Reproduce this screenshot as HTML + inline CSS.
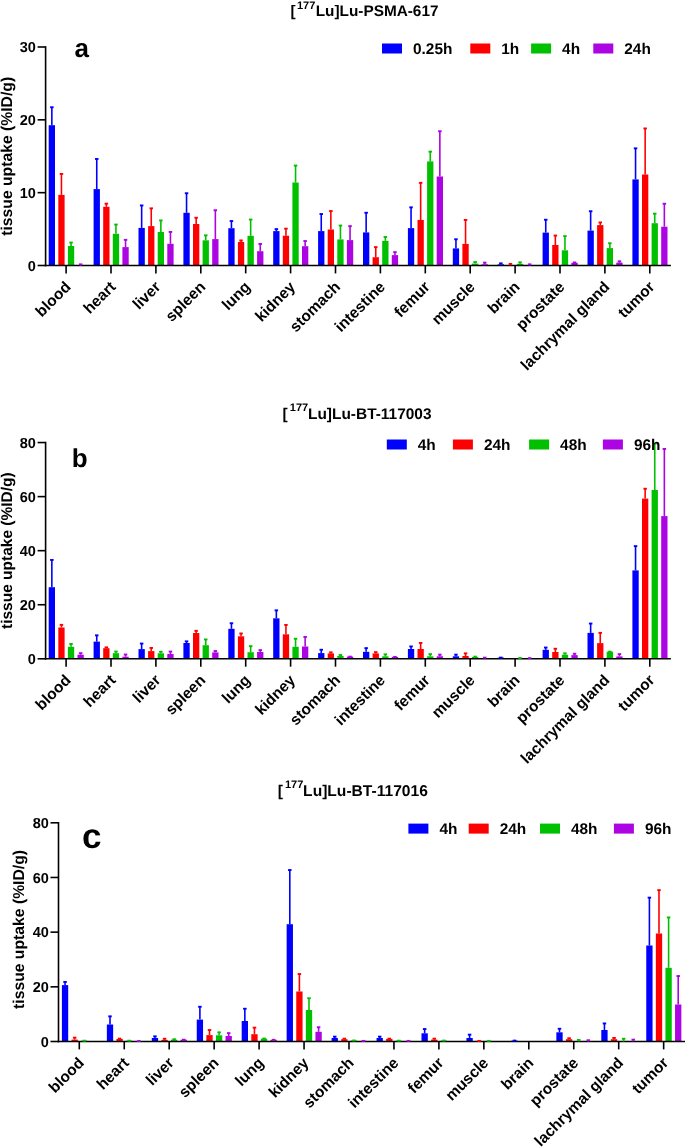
<!DOCTYPE html>
<html><head><meta charset="utf-8"><style>
html,body{margin:0;padding:0;background:#fff;}
svg{display:block;will-change:transform;}
text{font-family:"Liberation Sans", sans-serif;font-weight:bold;fill:#000;text-rendering:geometricPrecision;}
</style></head><body>
<svg width="685" height="1147" viewBox="0 0 685 1147">
<rect width="685" height="1147" fill="#fff"/>
<rect x="48.70" y="125.20" width="6.3" height="140.30" fill="#0000ff"/>
<rect x="58.30" y="194.90" width="6.3" height="70.60" fill="#ff0000"/>
<rect x="67.90" y="246.00" width="6.3" height="19.50" fill="#00c000"/>
<rect x="93.60" y="189.10" width="6.3" height="76.40" fill="#0000ff"/>
<rect x="103.20" y="206.80" width="6.3" height="58.70" fill="#ff0000"/>
<rect x="112.80" y="233.80" width="6.3" height="31.70" fill="#00c000"/>
<rect x="122.40" y="247.10" width="6.3" height="18.40" fill="#ac04e2"/>
<rect x="138.50" y="227.90" width="6.3" height="37.60" fill="#0000ff"/>
<rect x="148.10" y="226.10" width="6.3" height="39.40" fill="#ff0000"/>
<rect x="157.70" y="232.00" width="6.3" height="33.50" fill="#00c000"/>
<rect x="167.30" y="243.80" width="6.3" height="21.70" fill="#ac04e2"/>
<rect x="183.40" y="212.80" width="6.3" height="52.70" fill="#0000ff"/>
<rect x="193.00" y="224.00" width="6.3" height="41.50" fill="#ff0000"/>
<rect x="202.60" y="240.30" width="6.3" height="25.20" fill="#00c000"/>
<rect x="212.20" y="239.10" width="6.3" height="26.40" fill="#ac04e2"/>
<rect x="228.30" y="228.20" width="6.3" height="37.30" fill="#0000ff"/>
<rect x="237.90" y="242.00" width="6.3" height="23.50" fill="#ff0000"/>
<rect x="247.50" y="235.80" width="6.3" height="29.70" fill="#00c000"/>
<rect x="257.10" y="251.20" width="6.3" height="14.30" fill="#ac04e2"/>
<rect x="273.20" y="231.10" width="6.3" height="34.40" fill="#0000ff"/>
<rect x="282.80" y="235.70" width="6.3" height="29.80" fill="#ff0000"/>
<rect x="292.40" y="182.50" width="6.3" height="83.00" fill="#00c000"/>
<rect x="302.00" y="246.20" width="6.3" height="19.30" fill="#ac04e2"/>
<rect x="318.10" y="231.10" width="6.3" height="34.40" fill="#0000ff"/>
<rect x="327.70" y="229.50" width="6.3" height="36.00" fill="#ff0000"/>
<rect x="337.30" y="239.40" width="6.3" height="26.10" fill="#00c000"/>
<rect x="346.90" y="240.10" width="6.3" height="25.40" fill="#ac04e2"/>
<rect x="363.00" y="232.40" width="6.3" height="33.10" fill="#0000ff"/>
<rect x="372.60" y="257.20" width="6.3" height="8.30" fill="#ff0000"/>
<rect x="382.20" y="240.90" width="6.3" height="24.60" fill="#00c000"/>
<rect x="391.80" y="255.10" width="6.3" height="10.40" fill="#ac04e2"/>
<rect x="407.90" y="228.10" width="6.3" height="37.40" fill="#0000ff"/>
<rect x="417.50" y="219.90" width="6.3" height="45.60" fill="#ff0000"/>
<rect x="427.10" y="161.40" width="6.3" height="104.10" fill="#00c000"/>
<rect x="436.70" y="176.50" width="6.3" height="89.00" fill="#ac04e2"/>
<rect x="452.80" y="248.40" width="6.3" height="17.10" fill="#0000ff"/>
<rect x="462.40" y="243.90" width="6.3" height="21.60" fill="#ff0000"/>
<rect x="472.00" y="263.60" width="6.3" height="1.90" fill="#00c000"/>
<rect x="481.60" y="264.30" width="6.3" height="1.20" fill="#ac04e2"/>
<rect x="497.70" y="264.30" width="6.3" height="1.20" fill="#0000ff"/>
<rect x="516.90" y="263.80" width="6.3" height="1.70" fill="#00c000"/>
<rect x="542.60" y="232.60" width="6.3" height="32.90" fill="#0000ff"/>
<rect x="552.20" y="245.00" width="6.3" height="20.50" fill="#ff0000"/>
<rect x="561.80" y="250.30" width="6.3" height="15.20" fill="#00c000"/>
<rect x="571.40" y="262.80" width="6.3" height="2.70" fill="#ac04e2"/>
<rect x="587.50" y="230.60" width="6.3" height="34.90" fill="#0000ff"/>
<rect x="597.10" y="225.10" width="6.3" height="40.40" fill="#ff0000"/>
<rect x="606.70" y="248.10" width="6.3" height="17.40" fill="#00c000"/>
<rect x="616.30" y="262.60" width="6.3" height="2.90" fill="#ac04e2"/>
<rect x="632.40" y="179.40" width="6.3" height="86.10" fill="#0000ff"/>
<rect x="642.00" y="174.50" width="6.3" height="91.00" fill="#ff0000"/>
<rect x="651.60" y="223.20" width="6.3" height="42.30" fill="#00c000"/>
<rect x="661.20" y="226.70" width="6.3" height="38.80" fill="#ac04e2"/>
<line x1="45.60" y1="46.20" x2="45.60" y2="266.30" stroke="#000" stroke-width="1.6"/>
<line x1="44.80" y1="265.50" x2="670.90" y2="265.50" stroke="#000" stroke-width="1.6"/>
<line x1="37.6" y1="265.50" x2="45.6" y2="265.50" stroke="#000" stroke-width="1.6"/>
<text x="35.9" y="270.70" font-size="14.5" text-anchor="end">0</text>
<line x1="37.6" y1="192.67" x2="45.6" y2="192.67" stroke="#000" stroke-width="1.6"/>
<text x="35.9" y="197.87" font-size="14.5" text-anchor="end">10</text>
<line x1="37.6" y1="119.83" x2="45.6" y2="119.83" stroke="#000" stroke-width="1.6"/>
<text x="35.9" y="125.03" font-size="14.5" text-anchor="end">20</text>
<line x1="37.6" y1="47.00" x2="45.6" y2="47.00" stroke="#000" stroke-width="1.6"/>
<text x="35.9" y="52.20" font-size="14.5" text-anchor="end">30</text>
<line x1="66.10" y1="265.50" x2="66.10" y2="273.40" stroke="#000" stroke-width="1.6"/>
<line x1="111.00" y1="265.50" x2="111.00" y2="273.40" stroke="#000" stroke-width="1.6"/>
<line x1="155.90" y1="265.50" x2="155.90" y2="273.40" stroke="#000" stroke-width="1.6"/>
<line x1="200.80" y1="265.50" x2="200.80" y2="273.40" stroke="#000" stroke-width="1.6"/>
<line x1="245.70" y1="265.50" x2="245.70" y2="273.40" stroke="#000" stroke-width="1.6"/>
<line x1="290.60" y1="265.50" x2="290.60" y2="273.40" stroke="#000" stroke-width="1.6"/>
<line x1="335.50" y1="265.50" x2="335.50" y2="273.40" stroke="#000" stroke-width="1.6"/>
<line x1="380.40" y1="265.50" x2="380.40" y2="273.40" stroke="#000" stroke-width="1.6"/>
<line x1="425.30" y1="265.50" x2="425.30" y2="273.40" stroke="#000" stroke-width="1.6"/>
<line x1="470.20" y1="265.50" x2="470.20" y2="273.40" stroke="#000" stroke-width="1.6"/>
<line x1="515.10" y1="265.50" x2="515.10" y2="273.40" stroke="#000" stroke-width="1.6"/>
<line x1="560.00" y1="265.50" x2="560.00" y2="273.40" stroke="#000" stroke-width="1.6"/>
<line x1="604.90" y1="265.50" x2="604.90" y2="273.40" stroke="#000" stroke-width="1.6"/>
<line x1="649.80" y1="265.50" x2="649.80" y2="273.40" stroke="#000" stroke-width="1.6"/>
<line x1="51.85" y1="106.90" x2="51.85" y2="125.20" stroke="#0000ff" stroke-width="1.6"/>
<line x1="50.10" y1="107.25" x2="53.60" y2="107.25" stroke="#0000ff" stroke-width="1.9"/>
<line x1="61.45" y1="173.60" x2="61.45" y2="194.90" stroke="#ff0000" stroke-width="1.6"/>
<line x1="59.70" y1="173.95" x2="63.20" y2="173.95" stroke="#ff0000" stroke-width="1.9"/>
<line x1="71.05" y1="242.20" x2="71.05" y2="246.00" stroke="#00c000" stroke-width="1.6"/>
<line x1="69.30" y1="242.55" x2="72.80" y2="242.55" stroke="#00c000" stroke-width="1.9"/>
<line x1="80.65" y1="264.00" x2="80.65" y2="265.50" stroke="#ac04e2" stroke-width="1.6"/>
<line x1="78.90" y1="264.35" x2="82.40" y2="264.35" stroke="#ac04e2" stroke-width="1.9"/>
<line x1="96.75" y1="158.60" x2="96.75" y2="189.10" stroke="#0000ff" stroke-width="1.6"/>
<line x1="95.00" y1="158.95" x2="98.50" y2="158.95" stroke="#0000ff" stroke-width="1.9"/>
<line x1="106.35" y1="203.30" x2="106.35" y2="206.80" stroke="#ff0000" stroke-width="1.6"/>
<line x1="104.60" y1="203.65" x2="108.10" y2="203.65" stroke="#ff0000" stroke-width="1.9"/>
<line x1="115.95" y1="224.20" x2="115.95" y2="233.80" stroke="#00c000" stroke-width="1.6"/>
<line x1="114.20" y1="224.55" x2="117.70" y2="224.55" stroke="#00c000" stroke-width="1.9"/>
<line x1="125.55" y1="239.50" x2="125.55" y2="247.10" stroke="#ac04e2" stroke-width="1.6"/>
<line x1="123.80" y1="239.85" x2="127.30" y2="239.85" stroke="#ac04e2" stroke-width="1.9"/>
<line x1="141.65" y1="205.10" x2="141.65" y2="227.90" stroke="#0000ff" stroke-width="1.6"/>
<line x1="139.90" y1="205.45" x2="143.40" y2="205.45" stroke="#0000ff" stroke-width="1.9"/>
<line x1="151.25" y1="208.00" x2="151.25" y2="226.10" stroke="#ff0000" stroke-width="1.6"/>
<line x1="149.50" y1="208.35" x2="153.00" y2="208.35" stroke="#ff0000" stroke-width="1.9"/>
<line x1="160.85" y1="220.10" x2="160.85" y2="232.00" stroke="#00c000" stroke-width="1.6"/>
<line x1="159.10" y1="220.45" x2="162.60" y2="220.45" stroke="#00c000" stroke-width="1.9"/>
<line x1="170.45" y1="231.60" x2="170.45" y2="243.80" stroke="#ac04e2" stroke-width="1.6"/>
<line x1="168.70" y1="231.95" x2="172.20" y2="231.95" stroke="#ac04e2" stroke-width="1.9"/>
<line x1="186.55" y1="192.90" x2="186.55" y2="212.80" stroke="#0000ff" stroke-width="1.6"/>
<line x1="184.80" y1="193.25" x2="188.30" y2="193.25" stroke="#0000ff" stroke-width="1.9"/>
<line x1="196.15" y1="217.40" x2="196.15" y2="224.00" stroke="#ff0000" stroke-width="1.6"/>
<line x1="194.40" y1="217.75" x2="197.90" y2="217.75" stroke="#ff0000" stroke-width="1.9"/>
<line x1="205.75" y1="235.00" x2="205.75" y2="240.30" stroke="#00c000" stroke-width="1.6"/>
<line x1="204.00" y1="235.35" x2="207.50" y2="235.35" stroke="#00c000" stroke-width="1.9"/>
<line x1="215.35" y1="209.90" x2="215.35" y2="239.10" stroke="#ac04e2" stroke-width="1.6"/>
<line x1="213.60" y1="210.25" x2="217.10" y2="210.25" stroke="#ac04e2" stroke-width="1.9"/>
<line x1="231.45" y1="220.70" x2="231.45" y2="228.20" stroke="#0000ff" stroke-width="1.6"/>
<line x1="229.70" y1="221.05" x2="233.20" y2="221.05" stroke="#0000ff" stroke-width="1.9"/>
<line x1="241.05" y1="240.10" x2="241.05" y2="242.00" stroke="#ff0000" stroke-width="1.6"/>
<line x1="239.30" y1="240.45" x2="242.80" y2="240.45" stroke="#ff0000" stroke-width="1.9"/>
<line x1="250.65" y1="219.20" x2="250.65" y2="235.80" stroke="#00c000" stroke-width="1.6"/>
<line x1="248.90" y1="219.55" x2="252.40" y2="219.55" stroke="#00c000" stroke-width="1.9"/>
<line x1="260.25" y1="243.60" x2="260.25" y2="251.20" stroke="#ac04e2" stroke-width="1.6"/>
<line x1="258.50" y1="243.95" x2="262.00" y2="243.95" stroke="#ac04e2" stroke-width="1.9"/>
<line x1="276.35" y1="228.80" x2="276.35" y2="231.10" stroke="#0000ff" stroke-width="1.6"/>
<line x1="274.60" y1="229.15" x2="278.10" y2="229.15" stroke="#0000ff" stroke-width="1.9"/>
<line x1="285.95" y1="228.30" x2="285.95" y2="235.70" stroke="#ff0000" stroke-width="1.6"/>
<line x1="284.20" y1="228.65" x2="287.70" y2="228.65" stroke="#ff0000" stroke-width="1.9"/>
<line x1="295.55" y1="165.20" x2="295.55" y2="182.50" stroke="#00c000" stroke-width="1.6"/>
<line x1="293.80" y1="165.55" x2="297.30" y2="165.55" stroke="#00c000" stroke-width="1.9"/>
<line x1="305.15" y1="240.70" x2="305.15" y2="246.20" stroke="#ac04e2" stroke-width="1.6"/>
<line x1="303.40" y1="241.05" x2="306.90" y2="241.05" stroke="#ac04e2" stroke-width="1.9"/>
<line x1="321.25" y1="213.70" x2="321.25" y2="231.10" stroke="#0000ff" stroke-width="1.6"/>
<line x1="319.50" y1="214.05" x2="323.00" y2="214.05" stroke="#0000ff" stroke-width="1.9"/>
<line x1="330.85" y1="210.70" x2="330.85" y2="229.50" stroke="#ff0000" stroke-width="1.6"/>
<line x1="329.10" y1="211.05" x2="332.60" y2="211.05" stroke="#ff0000" stroke-width="1.9"/>
<line x1="340.45" y1="225.20" x2="340.45" y2="239.40" stroke="#00c000" stroke-width="1.6"/>
<line x1="338.70" y1="225.55" x2="342.20" y2="225.55" stroke="#00c000" stroke-width="1.9"/>
<line x1="350.05" y1="225.80" x2="350.05" y2="240.10" stroke="#ac04e2" stroke-width="1.6"/>
<line x1="348.30" y1="226.15" x2="351.80" y2="226.15" stroke="#ac04e2" stroke-width="1.9"/>
<line x1="366.15" y1="212.40" x2="366.15" y2="232.40" stroke="#0000ff" stroke-width="1.6"/>
<line x1="364.40" y1="212.75" x2="367.90" y2="212.75" stroke="#0000ff" stroke-width="1.9"/>
<line x1="375.75" y1="246.80" x2="375.75" y2="257.20" stroke="#ff0000" stroke-width="1.6"/>
<line x1="374.00" y1="247.15" x2="377.50" y2="247.15" stroke="#ff0000" stroke-width="1.9"/>
<line x1="385.35" y1="236.70" x2="385.35" y2="240.90" stroke="#00c000" stroke-width="1.6"/>
<line x1="383.60" y1="237.05" x2="387.10" y2="237.05" stroke="#00c000" stroke-width="1.9"/>
<line x1="394.95" y1="251.80" x2="394.95" y2="255.10" stroke="#ac04e2" stroke-width="1.6"/>
<line x1="393.20" y1="252.15" x2="396.70" y2="252.15" stroke="#ac04e2" stroke-width="1.9"/>
<line x1="411.05" y1="207.00" x2="411.05" y2="228.10" stroke="#0000ff" stroke-width="1.6"/>
<line x1="409.30" y1="207.35" x2="412.80" y2="207.35" stroke="#0000ff" stroke-width="1.9"/>
<line x1="420.65" y1="182.50" x2="420.65" y2="219.90" stroke="#ff0000" stroke-width="1.6"/>
<line x1="418.90" y1="182.85" x2="422.40" y2="182.85" stroke="#ff0000" stroke-width="1.9"/>
<line x1="430.25" y1="151.30" x2="430.25" y2="161.40" stroke="#00c000" stroke-width="1.6"/>
<line x1="428.50" y1="151.65" x2="432.00" y2="151.65" stroke="#00c000" stroke-width="1.9"/>
<line x1="439.85" y1="130.90" x2="439.85" y2="176.50" stroke="#ac04e2" stroke-width="1.6"/>
<line x1="438.10" y1="131.25" x2="441.60" y2="131.25" stroke="#ac04e2" stroke-width="1.9"/>
<line x1="455.95" y1="238.90" x2="455.95" y2="248.40" stroke="#0000ff" stroke-width="1.6"/>
<line x1="454.20" y1="239.25" x2="457.70" y2="239.25" stroke="#0000ff" stroke-width="1.9"/>
<line x1="465.55" y1="219.60" x2="465.55" y2="243.90" stroke="#ff0000" stroke-width="1.6"/>
<line x1="463.80" y1="219.95" x2="467.30" y2="219.95" stroke="#ff0000" stroke-width="1.9"/>
<line x1="475.15" y1="261.70" x2="475.15" y2="263.60" stroke="#00c000" stroke-width="1.6"/>
<line x1="473.40" y1="262.05" x2="476.90" y2="262.05" stroke="#00c000" stroke-width="1.9"/>
<line x1="484.75" y1="262.30" x2="484.75" y2="264.30" stroke="#ac04e2" stroke-width="1.6"/>
<line x1="483.00" y1="262.65" x2="486.50" y2="262.65" stroke="#ac04e2" stroke-width="1.9"/>
<line x1="500.85" y1="263.00" x2="500.85" y2="264.30" stroke="#0000ff" stroke-width="1.6"/>
<line x1="499.10" y1="263.35" x2="502.60" y2="263.35" stroke="#0000ff" stroke-width="1.9"/>
<line x1="510.45" y1="263.60" x2="510.45" y2="265.50" stroke="#ff0000" stroke-width="1.6"/>
<line x1="508.70" y1="263.95" x2="512.20" y2="263.95" stroke="#ff0000" stroke-width="1.9"/>
<line x1="520.05" y1="262.00" x2="520.05" y2="263.80" stroke="#00c000" stroke-width="1.6"/>
<line x1="518.30" y1="262.35" x2="521.80" y2="262.35" stroke="#00c000" stroke-width="1.9"/>
<line x1="529.65" y1="264.00" x2="529.65" y2="265.50" stroke="#ac04e2" stroke-width="1.6"/>
<line x1="527.90" y1="264.35" x2="531.40" y2="264.35" stroke="#ac04e2" stroke-width="1.9"/>
<line x1="545.75" y1="219.40" x2="545.75" y2="232.60" stroke="#0000ff" stroke-width="1.6"/>
<line x1="544.00" y1="219.75" x2="547.50" y2="219.75" stroke="#0000ff" stroke-width="1.9"/>
<line x1="555.35" y1="235.20" x2="555.35" y2="245.00" stroke="#ff0000" stroke-width="1.6"/>
<line x1="553.60" y1="235.55" x2="557.10" y2="235.55" stroke="#ff0000" stroke-width="1.9"/>
<line x1="564.95" y1="235.80" x2="564.95" y2="250.30" stroke="#00c000" stroke-width="1.6"/>
<line x1="563.20" y1="236.15" x2="566.70" y2="236.15" stroke="#00c000" stroke-width="1.9"/>
<line x1="574.55" y1="262.10" x2="574.55" y2="262.80" stroke="#ac04e2" stroke-width="1.6"/>
<line x1="572.80" y1="262.45" x2="576.30" y2="262.45" stroke="#ac04e2" stroke-width="1.9"/>
<line x1="590.65" y1="210.90" x2="590.65" y2="230.60" stroke="#0000ff" stroke-width="1.6"/>
<line x1="588.90" y1="211.25" x2="592.40" y2="211.25" stroke="#0000ff" stroke-width="1.9"/>
<line x1="600.25" y1="222.10" x2="600.25" y2="225.10" stroke="#ff0000" stroke-width="1.6"/>
<line x1="598.50" y1="222.45" x2="602.00" y2="222.45" stroke="#ff0000" stroke-width="1.9"/>
<line x1="609.85" y1="242.90" x2="609.85" y2="248.10" stroke="#00c000" stroke-width="1.6"/>
<line x1="608.10" y1="243.25" x2="611.60" y2="243.25" stroke="#00c000" stroke-width="1.9"/>
<line x1="619.45" y1="261.00" x2="619.45" y2="262.60" stroke="#ac04e2" stroke-width="1.6"/>
<line x1="617.70" y1="261.35" x2="621.20" y2="261.35" stroke="#ac04e2" stroke-width="1.9"/>
<line x1="635.55" y1="148.00" x2="635.55" y2="179.40" stroke="#0000ff" stroke-width="1.6"/>
<line x1="633.80" y1="148.35" x2="637.30" y2="148.35" stroke="#0000ff" stroke-width="1.9"/>
<line x1="645.15" y1="128.10" x2="645.15" y2="174.50" stroke="#ff0000" stroke-width="1.6"/>
<line x1="643.40" y1="128.45" x2="646.90" y2="128.45" stroke="#ff0000" stroke-width="1.9"/>
<line x1="654.75" y1="213.30" x2="654.75" y2="223.20" stroke="#00c000" stroke-width="1.6"/>
<line x1="653.00" y1="213.65" x2="656.50" y2="213.65" stroke="#00c000" stroke-width="1.9"/>
<line x1="664.35" y1="203.40" x2="664.35" y2="226.70" stroke="#ac04e2" stroke-width="1.6"/>
<line x1="662.60" y1="203.75" x2="666.10" y2="203.75" stroke="#ac04e2" stroke-width="1.9"/>
<text transform="translate(290.40,16.00) scale(1,1.0)" font-size="15.35">[</text>
<text transform="translate(297.00,8.60) scale(1,1.0)" font-size="11">177</text>
<text transform="translate(315.70,16.00) scale(1,1.0)" font-size="15.35">Lu]Lu-PSMA-617</text>
<text x="74.6" y="57.0" font-size="26">a</text>
<rect x="382.0" y="43.5" width="20" height="10" fill="#0000ff"/>
<text x="413.0" y="53.8" font-size="15.4">0.25h</text>
<rect x="470.3" y="43.5" width="20" height="10" fill="#ff0000"/>
<text x="501.3" y="53.8" font-size="15.4">1h</text>
<rect x="531.1" y="43.5" width="20" height="10" fill="#00c000"/>
<text x="562.1" y="53.8" font-size="15.4">4h</text>
<rect x="593.3" y="43.5" width="20" height="10" fill="#ac04e2"/>
<text x="624.3" y="53.8" font-size="15.4">24h</text>
<text transform="translate(12.10,156.30) rotate(-90)" font-size="15.73" text-anchor="middle">tissue uptake (%ID/g)</text>
<text transform="translate(71.70,287.80) rotate(-45)" font-size="15.5" text-anchor="end">blood</text>
<text transform="translate(116.60,287.80) rotate(-45)" font-size="15.5" text-anchor="end">heart</text>
<text transform="translate(161.50,287.80) rotate(-45)" font-size="15.5" text-anchor="end">liver</text>
<text transform="translate(206.40,287.80) rotate(-45)" font-size="15.5" text-anchor="end">spleen</text>
<text transform="translate(251.30,287.80) rotate(-45)" font-size="15.5" text-anchor="end">lung</text>
<text transform="translate(296.20,287.80) rotate(-45)" font-size="15.5" text-anchor="end">kidney</text>
<text transform="translate(341.10,287.80) rotate(-45)" font-size="15.5" text-anchor="end">stomach</text>
<text transform="translate(386.00,287.80) rotate(-45)" font-size="15.5" text-anchor="end">intestine</text>
<text transform="translate(430.90,287.80) rotate(-45)" font-size="15.5" text-anchor="end">femur</text>
<text transform="translate(475.80,287.80) rotate(-45)" font-size="15.5" text-anchor="end">muscle</text>
<text transform="translate(520.70,287.80) rotate(-45)" font-size="15.5" text-anchor="end">brain</text>
<text transform="translate(565.60,287.80) rotate(-45)" font-size="15.5" text-anchor="end">prostate</text>
<text transform="translate(610.50,287.80) rotate(-45)" font-size="15.5" text-anchor="end">lachrymal gland</text>
<text transform="translate(655.40,287.80) rotate(-45)" font-size="15.5" text-anchor="end">tumor</text>
<rect x="48.70" y="587.20" width="6.3" height="71.60" fill="#0000ff"/>
<rect x="58.30" y="627.50" width="6.3" height="31.30" fill="#ff0000"/>
<rect x="67.90" y="646.80" width="6.3" height="12.00" fill="#00c000"/>
<rect x="77.50" y="654.70" width="6.3" height="4.10" fill="#ac04e2"/>
<rect x="93.60" y="641.60" width="6.3" height="17.20" fill="#0000ff"/>
<rect x="103.20" y="648.20" width="6.3" height="10.60" fill="#ff0000"/>
<rect x="112.80" y="653.20" width="6.3" height="5.60" fill="#00c000"/>
<rect x="122.40" y="656.70" width="6.3" height="2.10" fill="#ac04e2"/>
<rect x="138.50" y="649.10" width="6.3" height="9.70" fill="#0000ff"/>
<rect x="148.10" y="651.10" width="6.3" height="7.70" fill="#ff0000"/>
<rect x="157.70" y="653.30" width="6.3" height="5.50" fill="#00c000"/>
<rect x="167.30" y="654.00" width="6.3" height="4.80" fill="#ac04e2"/>
<rect x="183.40" y="643.00" width="6.3" height="15.80" fill="#0000ff"/>
<rect x="193.00" y="633.00" width="6.3" height="25.80" fill="#ff0000"/>
<rect x="202.60" y="645.20" width="6.3" height="13.60" fill="#00c000"/>
<rect x="212.20" y="652.40" width="6.3" height="6.40" fill="#ac04e2"/>
<rect x="228.30" y="628.80" width="6.3" height="30.00" fill="#0000ff"/>
<rect x="237.90" y="636.30" width="6.3" height="22.50" fill="#ff0000"/>
<rect x="247.50" y="652.20" width="6.3" height="6.60" fill="#00c000"/>
<rect x="257.10" y="652.00" width="6.3" height="6.80" fill="#ac04e2"/>
<rect x="273.20" y="618.30" width="6.3" height="40.50" fill="#0000ff"/>
<rect x="282.80" y="634.30" width="6.3" height="24.50" fill="#ff0000"/>
<rect x="292.40" y="646.80" width="6.3" height="12.00" fill="#00c000"/>
<rect x="302.00" y="646.50" width="6.3" height="12.30" fill="#ac04e2"/>
<rect x="318.10" y="653.10" width="6.3" height="5.70" fill="#0000ff"/>
<rect x="327.70" y="653.40" width="6.3" height="5.40" fill="#ff0000"/>
<rect x="337.30" y="656.00" width="6.3" height="2.80" fill="#00c000"/>
<rect x="346.90" y="656.60" width="6.3" height="2.20" fill="#ac04e2"/>
<rect x="363.00" y="651.80" width="6.3" height="7.00" fill="#0000ff"/>
<rect x="372.60" y="653.40" width="6.3" height="5.40" fill="#ff0000"/>
<rect x="382.20" y="656.30" width="6.3" height="2.50" fill="#00c000"/>
<rect x="391.80" y="656.90" width="6.3" height="1.90" fill="#ac04e2"/>
<rect x="407.90" y="649.00" width="6.3" height="9.80" fill="#0000ff"/>
<rect x="417.50" y="649.00" width="6.3" height="9.80" fill="#ff0000"/>
<rect x="427.10" y="656.30" width="6.3" height="2.50" fill="#00c000"/>
<rect x="436.70" y="656.30" width="6.3" height="2.50" fill="#ac04e2"/>
<rect x="452.80" y="656.30" width="6.3" height="2.50" fill="#0000ff"/>
<rect x="462.40" y="656.00" width="6.3" height="2.80" fill="#ff0000"/>
<rect x="472.00" y="657.00" width="6.3" height="1.80" fill="#00c000"/>
<rect x="481.60" y="658.00" width="6.3" height="0.80" fill="#ac04e2"/>
<rect x="497.70" y="657.60" width="6.3" height="1.20" fill="#0000ff"/>
<rect x="516.90" y="658.00" width="6.3" height="0.80" fill="#00c000"/>
<rect x="526.50" y="658.10" width="6.3" height="0.70" fill="#ac04e2"/>
<rect x="542.60" y="649.80" width="6.3" height="9.00" fill="#0000ff"/>
<rect x="552.20" y="652.00" width="6.3" height="6.80" fill="#ff0000"/>
<rect x="561.80" y="654.70" width="6.3" height="4.10" fill="#00c000"/>
<rect x="571.40" y="655.10" width="6.3" height="3.70" fill="#ac04e2"/>
<rect x="587.50" y="632.90" width="6.3" height="25.90" fill="#0000ff"/>
<rect x="597.10" y="643.10" width="6.3" height="15.70" fill="#ff0000"/>
<rect x="606.70" y="651.70" width="6.3" height="7.10" fill="#00c000"/>
<rect x="616.30" y="656.40" width="6.3" height="2.40" fill="#ac04e2"/>
<rect x="632.40" y="570.40" width="6.3" height="88.40" fill="#0000ff"/>
<rect x="642.00" y="498.60" width="6.3" height="160.20" fill="#ff0000"/>
<rect x="651.60" y="490.00" width="6.3" height="168.80" fill="#00c000"/>
<rect x="661.20" y="516.10" width="6.3" height="142.70" fill="#ac04e2"/>
<line x1="45.60" y1="441.75" x2="45.60" y2="659.60" stroke="#000" stroke-width="1.6"/>
<line x1="44.80" y1="658.80" x2="670.90" y2="658.80" stroke="#000" stroke-width="1.6"/>
<line x1="37.6" y1="658.80" x2="45.6" y2="658.80" stroke="#000" stroke-width="1.6"/>
<text x="35.9" y="664.00" font-size="14.5" text-anchor="end">0</text>
<line x1="37.6" y1="604.74" x2="45.6" y2="604.74" stroke="#000" stroke-width="1.6"/>
<text x="35.9" y="609.94" font-size="14.5" text-anchor="end">20</text>
<line x1="37.6" y1="550.67" x2="45.6" y2="550.67" stroke="#000" stroke-width="1.6"/>
<text x="35.9" y="555.88" font-size="14.5" text-anchor="end">40</text>
<line x1="37.6" y1="496.61" x2="45.6" y2="496.61" stroke="#000" stroke-width="1.6"/>
<text x="35.9" y="501.81" font-size="14.5" text-anchor="end">60</text>
<line x1="37.6" y1="442.55" x2="45.6" y2="442.55" stroke="#000" stroke-width="1.6"/>
<text x="35.9" y="447.75" font-size="14.5" text-anchor="end">80</text>
<line x1="66.10" y1="658.80" x2="66.10" y2="666.70" stroke="#000" stroke-width="1.6"/>
<line x1="111.00" y1="658.80" x2="111.00" y2="666.70" stroke="#000" stroke-width="1.6"/>
<line x1="155.90" y1="658.80" x2="155.90" y2="666.70" stroke="#000" stroke-width="1.6"/>
<line x1="200.80" y1="658.80" x2="200.80" y2="666.70" stroke="#000" stroke-width="1.6"/>
<line x1="245.70" y1="658.80" x2="245.70" y2="666.70" stroke="#000" stroke-width="1.6"/>
<line x1="290.60" y1="658.80" x2="290.60" y2="666.70" stroke="#000" stroke-width="1.6"/>
<line x1="335.50" y1="658.80" x2="335.50" y2="666.70" stroke="#000" stroke-width="1.6"/>
<line x1="380.40" y1="658.80" x2="380.40" y2="666.70" stroke="#000" stroke-width="1.6"/>
<line x1="425.30" y1="658.80" x2="425.30" y2="666.70" stroke="#000" stroke-width="1.6"/>
<line x1="470.20" y1="658.80" x2="470.20" y2="666.70" stroke="#000" stroke-width="1.6"/>
<line x1="515.10" y1="658.80" x2="515.10" y2="666.70" stroke="#000" stroke-width="1.6"/>
<line x1="560.00" y1="658.80" x2="560.00" y2="666.70" stroke="#000" stroke-width="1.6"/>
<line x1="604.90" y1="658.80" x2="604.90" y2="666.70" stroke="#000" stroke-width="1.6"/>
<line x1="649.80" y1="658.80" x2="649.80" y2="666.70" stroke="#000" stroke-width="1.6"/>
<line x1="51.85" y1="559.60" x2="51.85" y2="587.20" stroke="#0000ff" stroke-width="1.6"/>
<line x1="50.10" y1="559.95" x2="53.60" y2="559.95" stroke="#0000ff" stroke-width="1.9"/>
<line x1="61.45" y1="624.50" x2="61.45" y2="627.50" stroke="#ff0000" stroke-width="1.6"/>
<line x1="59.70" y1="624.85" x2="63.20" y2="624.85" stroke="#ff0000" stroke-width="1.9"/>
<line x1="71.05" y1="643.60" x2="71.05" y2="646.80" stroke="#00c000" stroke-width="1.6"/>
<line x1="69.30" y1="643.95" x2="72.80" y2="643.95" stroke="#00c000" stroke-width="1.9"/>
<line x1="80.65" y1="652.80" x2="80.65" y2="654.70" stroke="#ac04e2" stroke-width="1.6"/>
<line x1="78.90" y1="653.15" x2="82.40" y2="653.15" stroke="#ac04e2" stroke-width="1.9"/>
<line x1="96.75" y1="635.00" x2="96.75" y2="641.60" stroke="#0000ff" stroke-width="1.6"/>
<line x1="95.00" y1="635.35" x2="98.50" y2="635.35" stroke="#0000ff" stroke-width="1.9"/>
<line x1="106.35" y1="647.00" x2="106.35" y2="648.20" stroke="#ff0000" stroke-width="1.6"/>
<line x1="104.60" y1="647.35" x2="108.10" y2="647.35" stroke="#ff0000" stroke-width="1.9"/>
<line x1="115.95" y1="651.20" x2="115.95" y2="653.20" stroke="#00c000" stroke-width="1.6"/>
<line x1="114.20" y1="651.55" x2="117.70" y2="651.55" stroke="#00c000" stroke-width="1.9"/>
<line x1="125.55" y1="654.20" x2="125.55" y2="656.70" stroke="#ac04e2" stroke-width="1.6"/>
<line x1="123.80" y1="654.55" x2="127.30" y2="654.55" stroke="#ac04e2" stroke-width="1.9"/>
<line x1="141.65" y1="643.20" x2="141.65" y2="649.10" stroke="#0000ff" stroke-width="1.6"/>
<line x1="139.90" y1="643.55" x2="143.40" y2="643.55" stroke="#0000ff" stroke-width="1.9"/>
<line x1="151.25" y1="647.60" x2="151.25" y2="651.10" stroke="#ff0000" stroke-width="1.6"/>
<line x1="149.50" y1="647.95" x2="153.00" y2="647.95" stroke="#ff0000" stroke-width="1.9"/>
<line x1="160.85" y1="651.40" x2="160.85" y2="653.30" stroke="#00c000" stroke-width="1.6"/>
<line x1="159.10" y1="651.75" x2="162.60" y2="651.75" stroke="#00c000" stroke-width="1.9"/>
<line x1="170.45" y1="651.20" x2="170.45" y2="654.00" stroke="#ac04e2" stroke-width="1.6"/>
<line x1="168.70" y1="651.55" x2="172.20" y2="651.55" stroke="#ac04e2" stroke-width="1.9"/>
<line x1="186.55" y1="641.00" x2="186.55" y2="643.00" stroke="#0000ff" stroke-width="1.6"/>
<line x1="184.80" y1="641.35" x2="188.30" y2="641.35" stroke="#0000ff" stroke-width="1.9"/>
<line x1="196.15" y1="630.50" x2="196.15" y2="633.00" stroke="#ff0000" stroke-width="1.6"/>
<line x1="194.40" y1="630.85" x2="197.90" y2="630.85" stroke="#ff0000" stroke-width="1.9"/>
<line x1="205.75" y1="639.10" x2="205.75" y2="645.20" stroke="#00c000" stroke-width="1.6"/>
<line x1="204.00" y1="639.45" x2="207.50" y2="639.45" stroke="#00c000" stroke-width="1.9"/>
<line x1="215.35" y1="650.70" x2="215.35" y2="652.40" stroke="#ac04e2" stroke-width="1.6"/>
<line x1="213.60" y1="651.05" x2="217.10" y2="651.05" stroke="#ac04e2" stroke-width="1.9"/>
<line x1="231.45" y1="622.90" x2="231.45" y2="628.80" stroke="#0000ff" stroke-width="1.6"/>
<line x1="229.70" y1="623.25" x2="233.20" y2="623.25" stroke="#0000ff" stroke-width="1.9"/>
<line x1="241.05" y1="633.10" x2="241.05" y2="636.30" stroke="#ff0000" stroke-width="1.6"/>
<line x1="239.30" y1="633.45" x2="242.80" y2="633.45" stroke="#ff0000" stroke-width="1.9"/>
<line x1="250.65" y1="645.80" x2="250.65" y2="652.20" stroke="#00c000" stroke-width="1.6"/>
<line x1="248.90" y1="646.15" x2="252.40" y2="646.15" stroke="#00c000" stroke-width="1.9"/>
<line x1="260.25" y1="649.80" x2="260.25" y2="652.00" stroke="#ac04e2" stroke-width="1.6"/>
<line x1="258.50" y1="650.15" x2="262.00" y2="650.15" stroke="#ac04e2" stroke-width="1.9"/>
<line x1="276.35" y1="610.00" x2="276.35" y2="618.30" stroke="#0000ff" stroke-width="1.6"/>
<line x1="274.60" y1="610.35" x2="278.10" y2="610.35" stroke="#0000ff" stroke-width="1.9"/>
<line x1="285.95" y1="624.60" x2="285.95" y2="634.30" stroke="#ff0000" stroke-width="1.6"/>
<line x1="284.20" y1="624.95" x2="287.70" y2="624.95" stroke="#ff0000" stroke-width="1.9"/>
<line x1="295.55" y1="638.40" x2="295.55" y2="646.80" stroke="#00c000" stroke-width="1.6"/>
<line x1="293.80" y1="638.75" x2="297.30" y2="638.75" stroke="#00c000" stroke-width="1.9"/>
<line x1="305.15" y1="636.60" x2="305.15" y2="646.50" stroke="#ac04e2" stroke-width="1.6"/>
<line x1="303.40" y1="636.95" x2="306.90" y2="636.95" stroke="#ac04e2" stroke-width="1.9"/>
<line x1="321.25" y1="649.40" x2="321.25" y2="653.10" stroke="#0000ff" stroke-width="1.6"/>
<line x1="319.50" y1="649.75" x2="323.00" y2="649.75" stroke="#0000ff" stroke-width="1.9"/>
<line x1="330.85" y1="652.00" x2="330.85" y2="653.40" stroke="#ff0000" stroke-width="1.6"/>
<line x1="329.10" y1="652.35" x2="332.60" y2="652.35" stroke="#ff0000" stroke-width="1.9"/>
<line x1="340.45" y1="654.70" x2="340.45" y2="656.00" stroke="#00c000" stroke-width="1.6"/>
<line x1="338.70" y1="655.05" x2="342.20" y2="655.05" stroke="#00c000" stroke-width="1.9"/>
<line x1="350.05" y1="656.30" x2="350.05" y2="656.60" stroke="#ac04e2" stroke-width="1.6"/>
<line x1="348.30" y1="656.65" x2="351.80" y2="656.65" stroke="#ac04e2" stroke-width="1.9"/>
<line x1="366.15" y1="647.80" x2="366.15" y2="651.80" stroke="#0000ff" stroke-width="1.6"/>
<line x1="364.40" y1="648.15" x2="367.90" y2="648.15" stroke="#0000ff" stroke-width="1.9"/>
<line x1="375.75" y1="651.80" x2="375.75" y2="653.40" stroke="#ff0000" stroke-width="1.6"/>
<line x1="374.00" y1="652.15" x2="377.50" y2="652.15" stroke="#ff0000" stroke-width="1.9"/>
<line x1="385.35" y1="654.00" x2="385.35" y2="656.30" stroke="#00c000" stroke-width="1.6"/>
<line x1="383.60" y1="654.35" x2="387.10" y2="654.35" stroke="#00c000" stroke-width="1.9"/>
<line x1="393.20" y1="656.90" x2="396.70" y2="656.90" stroke="#ac04e2" stroke-width="1.9"/>
<line x1="411.05" y1="646.10" x2="411.05" y2="649.00" stroke="#0000ff" stroke-width="1.6"/>
<line x1="409.30" y1="646.45" x2="412.80" y2="646.45" stroke="#0000ff" stroke-width="1.9"/>
<line x1="420.65" y1="642.60" x2="420.65" y2="649.00" stroke="#ff0000" stroke-width="1.6"/>
<line x1="418.90" y1="642.95" x2="422.40" y2="642.95" stroke="#ff0000" stroke-width="1.9"/>
<line x1="430.25" y1="653.80" x2="430.25" y2="656.30" stroke="#00c000" stroke-width="1.6"/>
<line x1="428.50" y1="654.15" x2="432.00" y2="654.15" stroke="#00c000" stroke-width="1.9"/>
<line x1="439.85" y1="654.30" x2="439.85" y2="656.30" stroke="#ac04e2" stroke-width="1.6"/>
<line x1="438.10" y1="654.65" x2="441.60" y2="654.65" stroke="#ac04e2" stroke-width="1.9"/>
<line x1="455.95" y1="654.30" x2="455.95" y2="656.30" stroke="#0000ff" stroke-width="1.6"/>
<line x1="454.20" y1="654.65" x2="457.70" y2="654.65" stroke="#0000ff" stroke-width="1.9"/>
<line x1="465.55" y1="653.00" x2="465.55" y2="656.00" stroke="#ff0000" stroke-width="1.6"/>
<line x1="463.80" y1="653.35" x2="467.30" y2="653.35" stroke="#ff0000" stroke-width="1.9"/>
<line x1="475.15" y1="656.30" x2="475.15" y2="657.00" stroke="#00c000" stroke-width="1.6"/>
<line x1="473.40" y1="656.65" x2="476.90" y2="656.65" stroke="#00c000" stroke-width="1.9"/>
<line x1="484.75" y1="657.30" x2="484.75" y2="658.00" stroke="#ac04e2" stroke-width="1.6"/>
<line x1="483.00" y1="657.65" x2="486.50" y2="657.65" stroke="#ac04e2" stroke-width="1.9"/>
<line x1="499.10" y1="657.60" x2="502.60" y2="657.60" stroke="#0000ff" stroke-width="1.9"/>
<line x1="518.30" y1="658.00" x2="521.80" y2="658.00" stroke="#00c000" stroke-width="1.9"/>
<line x1="527.90" y1="658.10" x2="531.40" y2="658.10" stroke="#ac04e2" stroke-width="1.9"/>
<line x1="545.75" y1="647.20" x2="545.75" y2="649.80" stroke="#0000ff" stroke-width="1.6"/>
<line x1="544.00" y1="647.55" x2="547.50" y2="647.55" stroke="#0000ff" stroke-width="1.9"/>
<line x1="555.35" y1="648.40" x2="555.35" y2="652.00" stroke="#ff0000" stroke-width="1.6"/>
<line x1="553.60" y1="648.75" x2="557.10" y2="648.75" stroke="#ff0000" stroke-width="1.9"/>
<line x1="564.95" y1="653.00" x2="564.95" y2="654.70" stroke="#00c000" stroke-width="1.6"/>
<line x1="563.20" y1="653.35" x2="566.70" y2="653.35" stroke="#00c000" stroke-width="1.9"/>
<line x1="574.55" y1="653.40" x2="574.55" y2="655.10" stroke="#ac04e2" stroke-width="1.6"/>
<line x1="572.80" y1="653.75" x2="576.30" y2="653.75" stroke="#ac04e2" stroke-width="1.9"/>
<line x1="590.65" y1="623.20" x2="590.65" y2="632.90" stroke="#0000ff" stroke-width="1.6"/>
<line x1="588.90" y1="623.55" x2="592.40" y2="623.55" stroke="#0000ff" stroke-width="1.9"/>
<line x1="600.25" y1="632.50" x2="600.25" y2="643.10" stroke="#ff0000" stroke-width="1.6"/>
<line x1="598.50" y1="632.85" x2="602.00" y2="632.85" stroke="#ff0000" stroke-width="1.9"/>
<line x1="609.85" y1="651.30" x2="609.85" y2="651.70" stroke="#00c000" stroke-width="1.6"/>
<line x1="608.10" y1="651.65" x2="611.60" y2="651.65" stroke="#00c000" stroke-width="1.9"/>
<line x1="619.45" y1="653.80" x2="619.45" y2="656.40" stroke="#ac04e2" stroke-width="1.6"/>
<line x1="617.70" y1="654.15" x2="621.20" y2="654.15" stroke="#ac04e2" stroke-width="1.9"/>
<line x1="635.55" y1="545.80" x2="635.55" y2="570.40" stroke="#0000ff" stroke-width="1.6"/>
<line x1="633.80" y1="546.15" x2="637.30" y2="546.15" stroke="#0000ff" stroke-width="1.9"/>
<line x1="645.15" y1="488.40" x2="645.15" y2="498.60" stroke="#ff0000" stroke-width="1.6"/>
<line x1="643.40" y1="488.75" x2="646.90" y2="488.75" stroke="#ff0000" stroke-width="1.9"/>
<line x1="654.75" y1="443.30" x2="654.75" y2="490.00" stroke="#00c000" stroke-width="1.6"/>
<line x1="653.00" y1="443.65" x2="656.50" y2="443.65" stroke="#00c000" stroke-width="1.9"/>
<line x1="664.35" y1="448.60" x2="664.35" y2="516.10" stroke="#ac04e2" stroke-width="1.6"/>
<line x1="662.60" y1="448.95" x2="666.10" y2="448.95" stroke="#ac04e2" stroke-width="1.9"/>
<text transform="translate(282.40,418.80) scale(1,1.0)" font-size="15.45">[</text>
<text transform="translate(289.80,411.10) scale(1,1.0)" font-size="11">177</text>
<text transform="translate(308.00,418.80) scale(1,1.0)" font-size="15.45">Lu]Lu-BT-117003</text>
<text x="71.7" y="467.0" font-size="26">b</text>
<rect x="386.8" y="439.5" width="20" height="10" fill="#0000ff"/>
<text x="417.8" y="449.8" font-size="15.4">4h</text>
<rect x="452.9" y="439.5" width="20" height="10" fill="#ff0000"/>
<text x="483.9" y="449.8" font-size="15.4">24h</text>
<rect x="529.1" y="439.5" width="20" height="10" fill="#00c000"/>
<text x="560.1" y="449.8" font-size="15.4">48h</text>
<rect x="602.9" y="439.5" width="20" height="10" fill="#ac04e2"/>
<text x="633.9" y="449.8" font-size="15.4">96h</text>
<text transform="translate(12.10,550.65) rotate(-90)" font-size="15.5" text-anchor="middle">tissue uptake (%ID/g)</text>
<text transform="translate(71.70,681.10) rotate(-45)" font-size="15.5" text-anchor="end">blood</text>
<text transform="translate(116.60,681.10) rotate(-45)" font-size="15.5" text-anchor="end">heart</text>
<text transform="translate(161.50,681.10) rotate(-45)" font-size="15.5" text-anchor="end">liver</text>
<text transform="translate(206.40,681.10) rotate(-45)" font-size="15.5" text-anchor="end">spleen</text>
<text transform="translate(251.30,681.10) rotate(-45)" font-size="15.5" text-anchor="end">lung</text>
<text transform="translate(296.20,681.10) rotate(-45)" font-size="15.5" text-anchor="end">kidney</text>
<text transform="translate(341.10,681.10) rotate(-45)" font-size="15.5" text-anchor="end">stomach</text>
<text transform="translate(386.00,681.10) rotate(-45)" font-size="15.5" text-anchor="end">intestine</text>
<text transform="translate(430.90,681.10) rotate(-45)" font-size="15.5" text-anchor="end">femur</text>
<text transform="translate(475.80,681.10) rotate(-45)" font-size="15.5" text-anchor="end">muscle</text>
<text transform="translate(520.70,681.10) rotate(-45)" font-size="15.5" text-anchor="end">brain</text>
<text transform="translate(565.60,681.10) rotate(-45)" font-size="15.5" text-anchor="end">prostate</text>
<text transform="translate(610.50,681.10) rotate(-45)" font-size="15.5" text-anchor="end">lachrymal gland</text>
<text transform="translate(655.40,681.10) rotate(-45)" font-size="15.5" text-anchor="end">tumor</text>
<rect x="61.90" y="985.10" width="6.3" height="56.40" fill="#0000ff"/>
<rect x="71.50" y="1039.60" width="6.3" height="1.90" fill="#ff0000"/>
<rect x="81.10" y="1040.70" width="6.3" height="0.80" fill="#00c000"/>
<rect x="106.85" y="1024.50" width="6.3" height="17.00" fill="#0000ff"/>
<rect x="116.45" y="1039.00" width="6.3" height="2.50" fill="#ff0000"/>
<rect x="126.05" y="1040.70" width="6.3" height="0.80" fill="#00c000"/>
<rect x="135.65" y="1041.00" width="6.3" height="0.50" fill="#ac04e2"/>
<rect x="151.80" y="1038.00" width="6.3" height="3.50" fill="#0000ff"/>
<rect x="161.40" y="1039.90" width="6.3" height="1.60" fill="#ff0000"/>
<rect x="171.00" y="1039.70" width="6.3" height="1.80" fill="#00c000"/>
<rect x="180.60" y="1039.70" width="6.3" height="1.80" fill="#ac04e2"/>
<rect x="196.75" y="1019.60" width="6.3" height="21.90" fill="#0000ff"/>
<rect x="206.35" y="1035.10" width="6.3" height="6.40" fill="#ff0000"/>
<rect x="215.95" y="1035.30" width="6.3" height="6.20" fill="#00c000"/>
<rect x="225.55" y="1036.00" width="6.3" height="5.50" fill="#ac04e2"/>
<rect x="241.70" y="1021.00" width="6.3" height="20.50" fill="#0000ff"/>
<rect x="251.30" y="1034.20" width="6.3" height="7.30" fill="#ff0000"/>
<rect x="260.90" y="1038.70" width="6.3" height="2.80" fill="#00c000"/>
<rect x="270.50" y="1039.80" width="6.3" height="1.70" fill="#ac04e2"/>
<rect x="286.65" y="924.20" width="6.3" height="117.30" fill="#0000ff"/>
<rect x="296.25" y="991.50" width="6.3" height="50.00" fill="#ff0000"/>
<rect x="305.85" y="1010.00" width="6.3" height="31.50" fill="#00c000"/>
<rect x="315.45" y="1031.80" width="6.3" height="9.70" fill="#ac04e2"/>
<rect x="331.60" y="1038.00" width="6.3" height="3.50" fill="#0000ff"/>
<rect x="341.20" y="1039.20" width="6.3" height="2.30" fill="#ff0000"/>
<rect x="350.80" y="1040.50" width="6.3" height="1.00" fill="#00c000"/>
<rect x="360.40" y="1040.90" width="6.3" height="0.60" fill="#ac04e2"/>
<rect x="376.55" y="1038.00" width="6.3" height="3.50" fill="#0000ff"/>
<rect x="386.15" y="1038.90" width="6.3" height="2.60" fill="#ff0000"/>
<rect x="395.75" y="1040.70" width="6.3" height="0.80" fill="#00c000"/>
<rect x="405.35" y="1040.90" width="6.3" height="0.60" fill="#ac04e2"/>
<rect x="421.50" y="1033.30" width="6.3" height="8.20" fill="#0000ff"/>
<rect x="431.10" y="1039.60" width="6.3" height="1.90" fill="#ff0000"/>
<rect x="440.70" y="1040.60" width="6.3" height="0.90" fill="#00c000"/>
<rect x="466.45" y="1038.00" width="6.3" height="3.50" fill="#0000ff"/>
<rect x="476.05" y="1040.90" width="6.3" height="0.60" fill="#ff0000"/>
<rect x="485.65" y="1040.90" width="6.3" height="0.60" fill="#00c000"/>
<rect x="511.40" y="1040.60" width="6.3" height="0.90" fill="#0000ff"/>
<rect x="556.35" y="1032.30" width="6.3" height="9.20" fill="#0000ff"/>
<rect x="565.95" y="1039.20" width="6.3" height="2.30" fill="#ff0000"/>
<rect x="601.30" y="1030.00" width="6.3" height="11.50" fill="#0000ff"/>
<rect x="610.90" y="1039.20" width="6.3" height="2.30" fill="#ff0000"/>
<rect x="646.25" y="945.50" width="6.3" height="96.00" fill="#0000ff"/>
<rect x="655.85" y="933.50" width="6.3" height="108.00" fill="#ff0000"/>
<rect x="665.45" y="967.80" width="6.3" height="73.70" fill="#00c000"/>
<rect x="675.05" y="1004.50" width="6.3" height="37.00" fill="#ac04e2"/>
<line x1="58.50" y1="822.00" x2="58.50" y2="1042.30" stroke="#000" stroke-width="1.6"/>
<line x1="57.70" y1="1041.50" x2="686.00" y2="1041.50" stroke="#000" stroke-width="1.6"/>
<line x1="50.5" y1="1041.50" x2="58.5" y2="1041.50" stroke="#000" stroke-width="1.6"/>
<text x="48.8" y="1046.70" font-size="14.5" text-anchor="end">0</text>
<line x1="50.5" y1="986.83" x2="58.5" y2="986.83" stroke="#000" stroke-width="1.6"/>
<text x="48.8" y="992.03" font-size="14.5" text-anchor="end">20</text>
<line x1="50.5" y1="932.15" x2="58.5" y2="932.15" stroke="#000" stroke-width="1.6"/>
<text x="48.8" y="937.35" font-size="14.5" text-anchor="end">40</text>
<line x1="50.5" y1="877.47" x2="58.5" y2="877.47" stroke="#000" stroke-width="1.6"/>
<text x="48.8" y="882.67" font-size="14.5" text-anchor="end">60</text>
<line x1="50.5" y1="822.80" x2="58.5" y2="822.80" stroke="#000" stroke-width="1.6"/>
<text x="48.8" y="828.00" font-size="14.5" text-anchor="end">80</text>
<line x1="79.30" y1="1041.50" x2="79.30" y2="1049.40" stroke="#000" stroke-width="1.6"/>
<line x1="124.25" y1="1041.50" x2="124.25" y2="1049.40" stroke="#000" stroke-width="1.6"/>
<line x1="169.20" y1="1041.50" x2="169.20" y2="1049.40" stroke="#000" stroke-width="1.6"/>
<line x1="214.15" y1="1041.50" x2="214.15" y2="1049.40" stroke="#000" stroke-width="1.6"/>
<line x1="259.10" y1="1041.50" x2="259.10" y2="1049.40" stroke="#000" stroke-width="1.6"/>
<line x1="304.05" y1="1041.50" x2="304.05" y2="1049.40" stroke="#000" stroke-width="1.6"/>
<line x1="349.00" y1="1041.50" x2="349.00" y2="1049.40" stroke="#000" stroke-width="1.6"/>
<line x1="393.95" y1="1041.50" x2="393.95" y2="1049.40" stroke="#000" stroke-width="1.6"/>
<line x1="438.90" y1="1041.50" x2="438.90" y2="1049.40" stroke="#000" stroke-width="1.6"/>
<line x1="483.85" y1="1041.50" x2="483.85" y2="1049.40" stroke="#000" stroke-width="1.6"/>
<line x1="528.80" y1="1041.50" x2="528.80" y2="1049.40" stroke="#000" stroke-width="1.6"/>
<line x1="573.75" y1="1041.50" x2="573.75" y2="1049.40" stroke="#000" stroke-width="1.6"/>
<line x1="618.70" y1="1041.50" x2="618.70" y2="1049.40" stroke="#000" stroke-width="1.6"/>
<line x1="663.65" y1="1041.50" x2="663.65" y2="1049.40" stroke="#000" stroke-width="1.6"/>
<line x1="65.05" y1="981.60" x2="65.05" y2="985.10" stroke="#0000ff" stroke-width="1.6"/>
<line x1="63.30" y1="981.95" x2="66.80" y2="981.95" stroke="#0000ff" stroke-width="1.9"/>
<line x1="74.65" y1="1037.30" x2="74.65" y2="1039.60" stroke="#ff0000" stroke-width="1.6"/>
<line x1="72.90" y1="1037.65" x2="76.40" y2="1037.65" stroke="#ff0000" stroke-width="1.9"/>
<line x1="82.50" y1="1040.70" x2="86.00" y2="1040.70" stroke="#00c000" stroke-width="1.9"/>
<line x1="110.00" y1="1016.00" x2="110.00" y2="1024.50" stroke="#0000ff" stroke-width="1.6"/>
<line x1="108.25" y1="1016.35" x2="111.75" y2="1016.35" stroke="#0000ff" stroke-width="1.9"/>
<line x1="119.60" y1="1038.30" x2="119.60" y2="1039.00" stroke="#ff0000" stroke-width="1.6"/>
<line x1="117.85" y1="1038.65" x2="121.35" y2="1038.65" stroke="#ff0000" stroke-width="1.9"/>
<line x1="127.45" y1="1040.70" x2="130.95" y2="1040.70" stroke="#00c000" stroke-width="1.9"/>
<line x1="137.05" y1="1041.00" x2="140.55" y2="1041.00" stroke="#ac04e2" stroke-width="1.9"/>
<line x1="154.95" y1="1036.00" x2="154.95" y2="1038.00" stroke="#0000ff" stroke-width="1.6"/>
<line x1="153.20" y1="1036.35" x2="156.70" y2="1036.35" stroke="#0000ff" stroke-width="1.9"/>
<line x1="164.55" y1="1038.40" x2="164.55" y2="1039.90" stroke="#ff0000" stroke-width="1.6"/>
<line x1="162.80" y1="1038.75" x2="166.30" y2="1038.75" stroke="#ff0000" stroke-width="1.9"/>
<line x1="174.15" y1="1038.90" x2="174.15" y2="1039.70" stroke="#00c000" stroke-width="1.6"/>
<line x1="172.40" y1="1039.25" x2="175.90" y2="1039.25" stroke="#00c000" stroke-width="1.9"/>
<line x1="182.00" y1="1039.70" x2="185.50" y2="1039.70" stroke="#ac04e2" stroke-width="1.9"/>
<line x1="199.90" y1="1006.40" x2="199.90" y2="1019.60" stroke="#0000ff" stroke-width="1.6"/>
<line x1="198.15" y1="1006.75" x2="201.65" y2="1006.75" stroke="#0000ff" stroke-width="1.9"/>
<line x1="209.50" y1="1029.70" x2="209.50" y2="1035.10" stroke="#ff0000" stroke-width="1.6"/>
<line x1="207.75" y1="1030.05" x2="211.25" y2="1030.05" stroke="#ff0000" stroke-width="1.9"/>
<line x1="219.10" y1="1032.00" x2="219.10" y2="1035.30" stroke="#00c000" stroke-width="1.6"/>
<line x1="217.35" y1="1032.35" x2="220.85" y2="1032.35" stroke="#00c000" stroke-width="1.9"/>
<line x1="228.70" y1="1032.80" x2="228.70" y2="1036.00" stroke="#ac04e2" stroke-width="1.6"/>
<line x1="226.95" y1="1033.15" x2="230.45" y2="1033.15" stroke="#ac04e2" stroke-width="1.9"/>
<line x1="244.85" y1="1008.40" x2="244.85" y2="1021.00" stroke="#0000ff" stroke-width="1.6"/>
<line x1="243.10" y1="1008.75" x2="246.60" y2="1008.75" stroke="#0000ff" stroke-width="1.9"/>
<line x1="254.45" y1="1027.30" x2="254.45" y2="1034.20" stroke="#ff0000" stroke-width="1.6"/>
<line x1="252.70" y1="1027.65" x2="256.20" y2="1027.65" stroke="#ff0000" stroke-width="1.9"/>
<line x1="264.05" y1="1038.20" x2="264.05" y2="1038.70" stroke="#00c000" stroke-width="1.6"/>
<line x1="262.30" y1="1038.55" x2="265.80" y2="1038.55" stroke="#00c000" stroke-width="1.9"/>
<line x1="271.90" y1="1039.80" x2="275.40" y2="1039.80" stroke="#ac04e2" stroke-width="1.9"/>
<line x1="289.80" y1="869.70" x2="289.80" y2="924.20" stroke="#0000ff" stroke-width="1.6"/>
<line x1="288.05" y1="870.05" x2="291.55" y2="870.05" stroke="#0000ff" stroke-width="1.9"/>
<line x1="299.40" y1="973.70" x2="299.40" y2="991.50" stroke="#ff0000" stroke-width="1.6"/>
<line x1="297.65" y1="974.05" x2="301.15" y2="974.05" stroke="#ff0000" stroke-width="1.9"/>
<line x1="309.00" y1="997.90" x2="309.00" y2="1010.00" stroke="#00c000" stroke-width="1.6"/>
<line x1="307.25" y1="998.25" x2="310.75" y2="998.25" stroke="#00c000" stroke-width="1.9"/>
<line x1="318.60" y1="1026.90" x2="318.60" y2="1031.80" stroke="#ac04e2" stroke-width="1.6"/>
<line x1="316.85" y1="1027.25" x2="320.35" y2="1027.25" stroke="#ac04e2" stroke-width="1.9"/>
<line x1="334.75" y1="1036.30" x2="334.75" y2="1038.00" stroke="#0000ff" stroke-width="1.6"/>
<line x1="333.00" y1="1036.65" x2="336.50" y2="1036.65" stroke="#0000ff" stroke-width="1.9"/>
<line x1="344.35" y1="1038.30" x2="344.35" y2="1039.20" stroke="#ff0000" stroke-width="1.6"/>
<line x1="342.60" y1="1038.65" x2="346.10" y2="1038.65" stroke="#ff0000" stroke-width="1.9"/>
<line x1="352.20" y1="1040.50" x2="355.70" y2="1040.50" stroke="#00c000" stroke-width="1.9"/>
<line x1="361.80" y1="1040.90" x2="365.30" y2="1040.90" stroke="#ac04e2" stroke-width="1.9"/>
<line x1="379.70" y1="1036.30" x2="379.70" y2="1038.00" stroke="#0000ff" stroke-width="1.6"/>
<line x1="377.95" y1="1036.65" x2="381.45" y2="1036.65" stroke="#0000ff" stroke-width="1.9"/>
<line x1="389.30" y1="1038.30" x2="389.30" y2="1038.90" stroke="#ff0000" stroke-width="1.6"/>
<line x1="387.55" y1="1038.65" x2="391.05" y2="1038.65" stroke="#ff0000" stroke-width="1.9"/>
<line x1="397.15" y1="1040.70" x2="400.65" y2="1040.70" stroke="#00c000" stroke-width="1.9"/>
<line x1="406.75" y1="1040.90" x2="410.25" y2="1040.90" stroke="#ac04e2" stroke-width="1.9"/>
<line x1="424.65" y1="1028.70" x2="424.65" y2="1033.30" stroke="#0000ff" stroke-width="1.6"/>
<line x1="422.90" y1="1029.05" x2="426.40" y2="1029.05" stroke="#0000ff" stroke-width="1.9"/>
<line x1="434.25" y1="1038.30" x2="434.25" y2="1039.60" stroke="#ff0000" stroke-width="1.6"/>
<line x1="432.50" y1="1038.65" x2="436.00" y2="1038.65" stroke="#ff0000" stroke-width="1.9"/>
<line x1="442.10" y1="1040.60" x2="445.60" y2="1040.60" stroke="#00c000" stroke-width="1.9"/>
<line x1="469.60" y1="1034.30" x2="469.60" y2="1038.00" stroke="#0000ff" stroke-width="1.6"/>
<line x1="467.85" y1="1034.65" x2="471.35" y2="1034.65" stroke="#0000ff" stroke-width="1.9"/>
<line x1="477.45" y1="1040.90" x2="480.95" y2="1040.90" stroke="#ff0000" stroke-width="1.9"/>
<line x1="487.05" y1="1040.90" x2="490.55" y2="1040.90" stroke="#00c000" stroke-width="1.9"/>
<line x1="512.80" y1="1040.60" x2="516.30" y2="1040.60" stroke="#0000ff" stroke-width="1.9"/>
<line x1="559.50" y1="1028.40" x2="559.50" y2="1032.30" stroke="#0000ff" stroke-width="1.6"/>
<line x1="557.75" y1="1028.75" x2="561.25" y2="1028.75" stroke="#0000ff" stroke-width="1.9"/>
<line x1="569.10" y1="1037.90" x2="569.10" y2="1039.20" stroke="#ff0000" stroke-width="1.6"/>
<line x1="567.35" y1="1038.25" x2="570.85" y2="1038.25" stroke="#ff0000" stroke-width="1.9"/>
<line x1="578.70" y1="1039.60" x2="578.70" y2="1041.50" stroke="#00c000" stroke-width="1.6"/>
<line x1="576.95" y1="1039.95" x2="580.45" y2="1039.95" stroke="#00c000" stroke-width="1.9"/>
<line x1="588.30" y1="1039.90" x2="588.30" y2="1041.50" stroke="#ac04e2" stroke-width="1.6"/>
<line x1="586.55" y1="1040.25" x2="590.05" y2="1040.25" stroke="#ac04e2" stroke-width="1.9"/>
<line x1="604.45" y1="1023.10" x2="604.45" y2="1030.00" stroke="#0000ff" stroke-width="1.6"/>
<line x1="602.70" y1="1023.45" x2="606.20" y2="1023.45" stroke="#0000ff" stroke-width="1.9"/>
<line x1="614.05" y1="1037.60" x2="614.05" y2="1039.20" stroke="#ff0000" stroke-width="1.6"/>
<line x1="612.30" y1="1037.95" x2="615.80" y2="1037.95" stroke="#ff0000" stroke-width="1.9"/>
<line x1="623.65" y1="1038.40" x2="623.65" y2="1041.50" stroke="#00c000" stroke-width="1.6"/>
<line x1="621.90" y1="1038.75" x2="625.40" y2="1038.75" stroke="#00c000" stroke-width="1.9"/>
<line x1="633.25" y1="1039.30" x2="633.25" y2="1041.50" stroke="#ac04e2" stroke-width="1.6"/>
<line x1="631.50" y1="1039.65" x2="635.00" y2="1039.65" stroke="#ac04e2" stroke-width="1.9"/>
<line x1="649.40" y1="897.30" x2="649.40" y2="945.50" stroke="#0000ff" stroke-width="1.6"/>
<line x1="647.65" y1="897.65" x2="651.15" y2="897.65" stroke="#0000ff" stroke-width="1.9"/>
<line x1="659.00" y1="889.80" x2="659.00" y2="933.50" stroke="#ff0000" stroke-width="1.6"/>
<line x1="657.25" y1="890.15" x2="660.75" y2="890.15" stroke="#ff0000" stroke-width="1.9"/>
<line x1="668.60" y1="917.10" x2="668.60" y2="967.80" stroke="#00c000" stroke-width="1.6"/>
<line x1="666.85" y1="917.45" x2="670.35" y2="917.45" stroke="#00c000" stroke-width="1.9"/>
<line x1="678.20" y1="975.70" x2="678.20" y2="1004.50" stroke="#ac04e2" stroke-width="1.6"/>
<line x1="676.45" y1="976.05" x2="679.95" y2="976.05" stroke="#ac04e2" stroke-width="1.9"/>
<text transform="translate(277.80,796.00) scale(1,1.0)" font-size="15.6">[</text>
<text transform="translate(284.90,787.90) scale(1,1.0)" font-size="11">177</text>
<text transform="translate(303.10,796.00) scale(1,1.0)" font-size="15.6">Lu]Lu-BT-117016</text>
<text x="82.0" y="848.0" font-size="35">c</text>
<rect x="408.4" y="823.6" width="20" height="10" fill="#0000ff"/>
<text x="439.4" y="833.9" font-size="15.4">4h</text>
<rect x="468.7" y="823.6" width="20" height="10" fill="#ff0000"/>
<text x="499.7" y="833.9" font-size="15.4">24h</text>
<rect x="540.0" y="823.6" width="20" height="10" fill="#00c000"/>
<text x="571.0" y="833.9" font-size="15.4">48h</text>
<rect x="613.9" y="823.6" width="20" height="10" fill="#ac04e2"/>
<text x="644.9" y="833.9" font-size="15.4">96h</text>
<text transform="translate(24.10,929.45) rotate(-90)" font-size="15.73" text-anchor="middle">tissue uptake (%ID/g)</text>
<text transform="translate(84.90,1063.80) rotate(-45)" font-size="15.5" text-anchor="end">blood</text>
<text transform="translate(129.85,1063.80) rotate(-45)" font-size="15.5" text-anchor="end">heart</text>
<text transform="translate(174.80,1063.80) rotate(-45)" font-size="15.5" text-anchor="end">liver</text>
<text transform="translate(219.75,1063.80) rotate(-45)" font-size="15.5" text-anchor="end">spleen</text>
<text transform="translate(264.70,1063.80) rotate(-45)" font-size="15.5" text-anchor="end">lung</text>
<text transform="translate(309.65,1063.80) rotate(-45)" font-size="15.5" text-anchor="end">kidney</text>
<text transform="translate(354.60,1063.80) rotate(-45)" font-size="15.5" text-anchor="end">stomach</text>
<text transform="translate(399.55,1063.80) rotate(-45)" font-size="15.5" text-anchor="end">intestine</text>
<text transform="translate(444.50,1063.80) rotate(-45)" font-size="15.5" text-anchor="end">femur</text>
<text transform="translate(489.45,1063.80) rotate(-45)" font-size="15.5" text-anchor="end">muscle</text>
<text transform="translate(534.40,1063.80) rotate(-45)" font-size="15.5" text-anchor="end">brain</text>
<text transform="translate(579.35,1063.80) rotate(-45)" font-size="15.5" text-anchor="end">prostate</text>
<text transform="translate(624.30,1063.80) rotate(-45)" font-size="15.5" text-anchor="end">lachrymal gland</text>
<text transform="translate(669.25,1063.80) rotate(-45)" font-size="15.5" text-anchor="end">tumor</text>
</svg>
</body></html>
